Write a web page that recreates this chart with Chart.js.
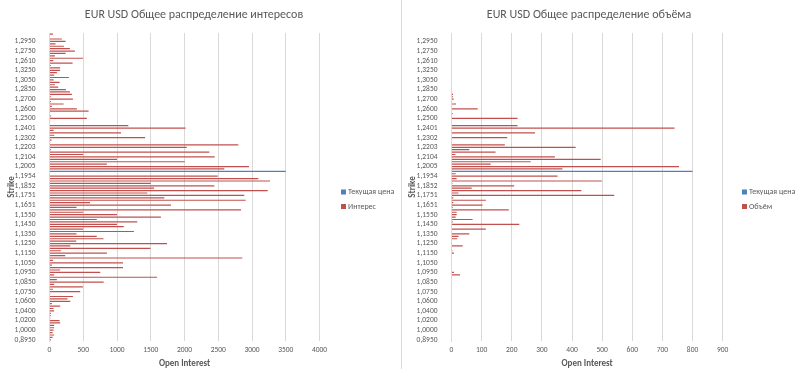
<!DOCTYPE html>
<html><head><meta charset="utf-8">
<script src="https://cdn.jsdelivr.net/npm/chart.js@4.4.1/dist/chart.umd.min.js"></script>
<style>
html,body{margin:0;padding:0;background:#fff;}
#wrap{position:relative;width:800px;height:369px;overflow:hidden;background:#fff;}
.pane{position:absolute;top:0;height:369px;}
#divider{position:absolute;left:401px;top:0;width:1px;height:369px;background:#d9d9d9;}
</style></head><body>
<div id="wrap">
<div class="pane" style="left:0;width:401px"><canvas id="c1" width="401" height="369" style="width:401px;height:369px"></canvas></div>
<div id="divider"></div>
<div class="pane" style="left:401px;width:399px"><canvas id="c2" width="399" height="369" style="width:399px;height:369px"></canvas></div>
</div>
<script>
const strikes = [
"1,3350","1,3150","1,3000","1,2950","1,2900","1,2825","1,2800","1,2750","1,2725","1,2650","1,2625","1,2610",
"1,3500","1,3400","1,3300","1,3250","1,3200","1,3100","1,3075","1,3050","1,2975","1,2925","1,2875","1,2850",
"1,2775","1,2760","1,2710","1,2700","1,2675","1,2640","1,2620","1,2600","1,2575","1,2550","1,2525","1,2500",
"1,2475","1,2450","1,2426","1,2401","1,2376","1,2351","1,2327","1,2302","1,2277","1,2252","1,2228","1,2203",
"1,2178","1,2153","1,2129","1,2104","1,2079","1,2054","1,2030","1,2005","1,1992","1,1980","1,1967","1,1954",
"1,1929","1,1903","1,1878","1,1852","1,1827","1,1802","1,1776","1,1751","1,1726","1,1701","1,1676","1,1651",
"1,1626","1,1600","1,1575","1,1550","1,1525","1,1500","1,1475","1,1450","1,1425","1,1400","1,1375","1,1350",
"1,1325","1,1300","1,1275","1,1250","1,1225","1,1200","1,1175","1,1150","1,1125","1,1100","1,1075","1,1050",
"1,1025","1,1000","1,0975","1,0950","1,0925","1,0900","1,0875","1,0850","1,0825","1,0800","1,0775","1,0750",
"1,0700","1,0675","1,0650","1,0600","1,0550","1,0500","1,0450","1,0400","1,0350","1,0300","1,0250","1,0200",
"1,0150","1,0100","1,0050","1,0000","0,9800","0,9500","0,9200","0,8950"];

const interest = [
50,0,183,238,89,213,302,376,238,80,495,55,
342,20,158,158,109,70,287,60,149,80,129,243,
302,332,20,347,20,208,35,406,579,0,25,554,
10,0,1168,2015,60,1059,70,1416,30,10,2797,2033,
20,2368,500,2447,1000,2003,850,2956,2590,0,0,2492,
3093,3267,1500,2442,1550,3232,1450,2886,1700,2907,600,1800,
400,2837,500,1000,1650,700,1300,1000,1100,500,1250,400,
700,800,396,1742,307,1495,168,851,233,2856,50,1089,
35,1089,158,752,69,1594,109,802,69,495,50,455,
10,347,267,307,35,158,60,69,20,20,10,149,
158,69,69,60,45,69,45,20];

const volume = [
0,0,0,0,0,0,0,0,0,0,0,0,
0,0,0,0,0,0,0,0,0,0,0,0,
0,5,5,7,0,15,0,87,0,4,0,219,
0,0,219,740,0,277,0,185,0,0,177,412,
59,146,13,343,495,263,130,755,368,0,14,352,
17,499,3,208,67,431,23,540,6,114,6,103,
4,190,17,17,14,70,4,225,0,114,0,59,
23,19,0,1,37,0,3,8,0,0,0,0,
0,0,0,8,28,0,0,0,0,0,0,0,
0,0,0,0,0,0,0,0,0,0,0,0,
0,0,0,0,0,0,0,0];

const currentStrike = ["1,1980"];
const currentInterest = [3500];
const currentVolume = [800];

const interestTicks = [0,500,1000,1500,2000,2500,3000,3500,4000];
const volumeTicks = [0,100,200,300,400,500,600,700,800,900];

const FONT = "Carlito, 'Liberation Sans Narrow', Lato, 'Liberation Sans', sans-serif";
const GREY = '#595959';
const BLUE = '#4F81BD';
const RED = '#C0504D';

function overlay(title, titleX, names) {
  return {
    id: 'overlay',
    afterDraw(chart) {
      const ctx = chart.ctx;
      ctx.save();
      ctx.fillStyle = GREY;
      ctx.font = '12px ' + FONT;
      ctx.textAlign = 'center';
      ctx.textBaseline = 'middle';
      ctx.fillText(title, titleX, 15);
      ctx.font = '8px ' + FONT;
      ctx.textAlign = 'left';
      const lx = 341, ys = [192, 206.5], cols = [BLUE, RED];
      names.forEach((n, i) => {
        ctx.fillStyle = cols[i];
        ctx.fillRect(lx, ys[i] - 2.5, 5, 5);
        ctx.fillStyle = GREY;
        ctx.fillText(n, lx + 7, ys[i]);
      });
      ctx.restore();
    }
  };
}

function makeChart(id, W, plotLeft, plotRight, values, curVal, ticks, title, titleX, names) {
  const max = ticks[ticks.length - 1];
  const step = ticks[1] - ticks[0];
  return new Chart(document.getElementById(id), {
    type: 'bar',
    data: {
      labels: strikes,
      datasets: [
        { label: names[0], data: currentStrike.map((s, i) => ({ y: s, x: curVal[i] })),
          backgroundColor: BLUE, borderWidth: 0, grouped: false, barPercentage: 0.5, categoryPercentage: 1 },
        { label: names[1], data: values,
          backgroundColor: RED, borderWidth: 0, grouped: false, barPercentage: 0.5, categoryPercentage: 1 }
      ]
    },
    options: {
      indexAxis: 'y',
      responsive: false,
      animation: false,
      layout: { padding: { top: 33, right: W - plotRight, bottom: 0, left: 0 } },
      plugins: { legend: { display: false }, title: { display: false }, tooltip: { enabled: false } },
      scales: {
        y: {
          afterFit(s) { s.width = plotLeft; },
          grid: { display: false },
          border: { color: '#d9d9d9' },
          ticks: {
            autoSkip: false, color: GREY, padding: 6,
            font: { family: FONT, size: 7.5 },
            callback: (v, i) => (i % 4 === 3 ? strikes[i] : '')
          },
          title: { display: true, text: 'Strike', color: GREY, font: { family: FONT, size: 9, weight: 'bold' }, padding: { top: 6, bottom: 0 } }
        },
        x: {
          min: 0, max: max,
          afterFit(s) { s.height = 28; },
          grid: { color: '#d9d9d9', drawTicks: false },
          border: { display: false },
          ticks: { stepSize: step, color: GREY, padding: 5, font: { family: FONT, size: 7.5 },
            callback: (v) => String(v) },
          title: { display: true, text: 'Open Interest', color: GREY, font: { family: FONT, size: 9, weight: 'bold' }, padding: { top: 0, bottom: 0 } }
        }
      }
    },
    plugins: [overlay(title, titleX, names)]
  });
}

makeChart('c1', 401, 49.5, 319.5, interest, currentInterest, interestTicks,
  'EUR USD Общее распределение интересов', 194, ['Текущая цена', 'Интерес']);
makeChart('c2', 399, 50.5, 321.7, volume, currentVolume, volumeTicks,
  'EUR USD Общее распределение объёма', 188, ['Текущая цена', 'Объём']);
</script>
</body></html>
